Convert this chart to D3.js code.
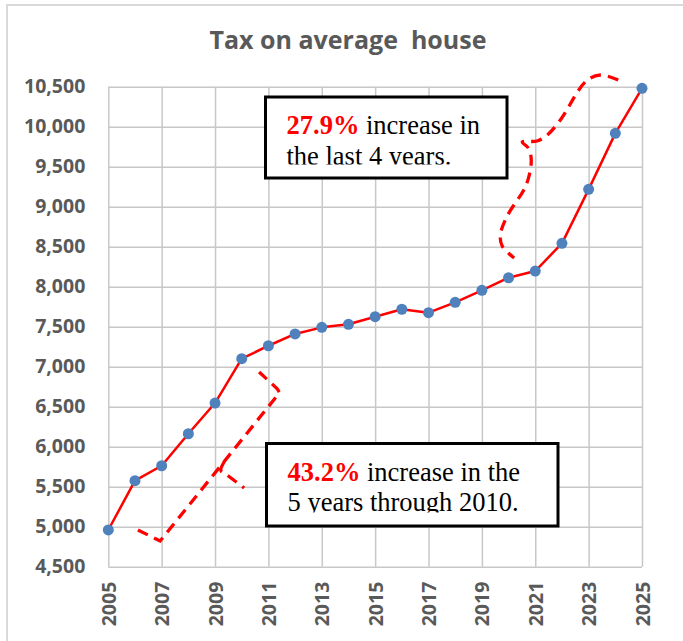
<!DOCTYPE html>
<html>
<head>
    <script src="https://d3js.org/d3.v7.min.js"></script>
    <style>
        body { margin: 0; background: #fff; }
        .axis text {
            font-family: "Open Sans", sans-serif;
            font-weight: 700;
            font-size: 19.5px;
            fill: #595959;
        }
        .axis line { stroke: #c8c8c8; stroke-width: 1.5px; }
        .axis .domain { display: none; }
        .note { font-family: "Liberation Serif", "Times New Roman", serif; font-size: 26.5px; fill: #000; }
        .note .pct { fill: #ff0000; font-weight: 700; }
    </style>
</head>
<body>
    <svg width="683" height="641"></svg>
    <script>
        // data
        var years = [2005, 2006, 2007, 2008, 2009, 2010, 2011, 2012, 2013, 2014, 2015,
                     2016, 2017, 2018, 2019, 2020, 2021, 2022, 2023, 2024, 2025];
        var tax = [4959, 5575, 5762, 6162, 6546, 7100, 7262, 7409, 7492, 7530, 7625,
                   7718, 7675, 7805, 7955, 8112, 8196, 8542, 9217, 9917, 10480];
        var yTicks = [4500, 5000, 5500, 6000, 6500, 7000, 7500, 8000, 8500, 9000, 9500, 10000, 10500];
        var xTicks = [2005, 2007, 2009, 2011, 2013, 2015, 2017, 2019, 2021, 2023, 2025];

        // hand-drawn dashed loops, in [year, value]
        var loopLow = [[2006.11, 4959], [2006.94, 4821], [2011.29, 6621], [2011.42, 6675],
                       [2011.33, 6725], [2010.65, 6934]];
        var loopLowTail = [[2009.34, 5809], [2009.22, 5700], [2009.45, 5646], [2010.09, 5484]];
        var loopHigh = [[2024.11, 10584], [2023.44, 10646], [2022.91, 10571], [2021.94, 10084],
                        [2021.45, 9896], [2021.07, 9821], [2020.51, 9809], [2020.74, 9734],
                        [2020.85, 9584], [2020.66, 9271], [2019.95, 8884], [2019.69, 8646],
                        [2019.76, 8509], [2019.99, 8421], [2020.21, 8359]];

        var svg = d3.select("svg"),
            margin = {top: 86.7, left: 108.3},
            width = 533.7,
            height = 480;

        // outer chart frame
        svg.append("rect")
            .attr("x", 7).attr("y", 5)
            .attr("width", 690).attr("height", 650)
            .attr("fill", "#fff")
            .attr("stroke", "#d9d9d9")
            .attr("stroke-width", 2);

        svg.append("text")
            .attr("x", 348).attr("y", 49)
            .attr("text-anchor", "middle")
            .style("font-family", "'Open Sans', sans-serif")
            .style("font-weight", 700)
            .style("font-size", "25px")
            .style("fill", "#595959")
            .style("white-space", "pre")
            .text("Tax on average  house");

        var x = d3.scaleLinear().domain([2005, 2025]).range([0, width]),
            y = d3.scaleLinear().domain([4500, 10500]).range([height, 0]);

        var g = svg.append("g")
            .attr("transform", "translate(" + margin.left + "," + margin.top + ")");

        g.append("g")
            .attr("class", "axis axis--y")
            .call(d3.axisLeft(y).tickValues(yTicks).tickSize(-width).tickPadding(23)
                .tickFormat(d3.format(",")));

        var xAxis = g.append("g")
            .attr("class", "axis axis--x")
            .attr("transform", "translate(0," + height + ")")
            .call(d3.axisBottom(x).tickValues(xTicks).tickSize(-height)
                .tickFormat(d3.format("d")));
        xAxis.selectAll("text")
            .attr("transform", "rotate(-90)")
            .attr("text-anchor", "end")
            .attr("x", -15)
            .attr("y", 0)
            .attr("dy", "0.36em");

        // text boxes
        function noteBox(bx, by, bw, bh, pct, rest, line2) {
            var id = "clip" + Math.round(bx);
            svg.append("clipPath").attr("id", id)
                .append("rect").attr("x", bx).attr("y", by).attr("width", bw).attr("height", bh - 13.5);
            svg.append("rect")
                .attr("x", bx).attr("y", by).attr("width", bw).attr("height", bh)
                .attr("fill", "#fff").attr("stroke", "#000").attr("stroke-width", 3);
            var t = svg.append("text").attr("class", "note").attr("clip-path", "url(#" + id + ")");
            t.append("tspan").attr("x", bx + 21).attr("y", by + 37).attr("class", "pct").text(pct);
            t.append("tspan").text(rest);
            t.append("tspan").attr("x", bx + 21).attr("y", by + 67.5).text(line2);
        }
        noteBox(265.5, 97, 241.5, 81, "27.9%", " increase in", "the last 4 years.");
        noteBox(266.5, 443.5, 291.5, 82.5, "43.2%", " increase in the", "5 years through 2010.");

        var line = d3.line()
            .x(function(d, i) { return x(years[i]); })
            .y(function(d) { return y(d); });

        g.append("path")
            .datum(tax)
            .attr("fill", "none")
            .attr("stroke", "#ff0000")
            .attr("stroke-width", 2.5)
            .attr("stroke-linejoin", "round")
            .attr("d", line);

        g.selectAll(".dot")
            .data(tax)
            .enter().append("circle")
            .attr("class", "dot")
            .attr("cx", function(d, i) { return x(years[i]); })
            .attr("cy", function(d) { return y(d); })
            .attr("r", 5.5)
            .attr("fill", "#4f81bd");

        var sketch = d3.line()
            .x(function(d) { return x(d[0]); })
            .y(function(d) { return y(d[1]); })
            .curve(d3.curveCatmullRom.alpha(0.5));
        var sketchSharp = d3.line()
            .x(function(d) { return x(d[0]); })
            .y(function(d) { return y(d[1]); });

        [[loopLow, sketchSharp], [loopLowTail, sketch], [loopHigh, sketch]].forEach(function(p) {
            g.append("path")
                .datum(p[0])
                .attr("fill", "none")
                .attr("stroke", "#ff0000")
                .attr("stroke-width", 3.3)
                .attr("stroke-dasharray", "11,7")
                .attr("d", p[1]);
        });
    </script>
</body>
</html>
